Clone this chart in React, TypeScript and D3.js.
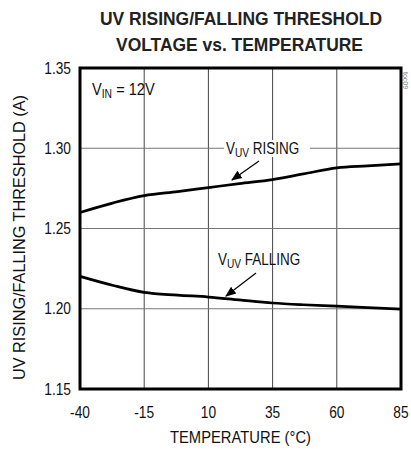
import React from "react";
import * as d3 from "d3";

const temps = [-40, -27, -15, -2, 10, 22, 35, 47, 60, 72, 85];
const rising = [1.26, 1.266, 1.2705, 1.273, 1.2755, 1.278, 1.2805, 1.284, 1.2878, 1.289, 1.2903];
const falling = [1.2202, 1.2145, 1.2102, 1.2085, 1.2073, 1.2055, 1.2036, 1.2025, 1.2016, 1.2007, 1.1998];
const xTicks = [-40, -15, 10, 35, 60, 85];
const yTicks = [1.15, 1.2, 1.25, 1.3, 1.35];

const W = 411;
const H = 450;
const margin = { top: 68, right: 10, bottom: 61, left: 80 };
const font = "'Liberation Sans', Arial, sans-serif";
// reference type is a narrow grotesque, squeeze horizontally
const squeeze = 0.86;

function App() {
  const x = d3.scaleLinear().domain([-40, 85]).range([margin.left, W - margin.right]);
  const y = d3.scaleLinear().domain([1.15, 1.35]).range([H - margin.bottom, margin.top]);

  const line = d3
    .line<number>()
    .x((_, i) => x(temps[i]))
    .y((d) => y(d))
    .curve(d3.curveMonotoneX);

  const x0 = x(-40);
  const x1 = x(85);
  const y0 = y(1.15);
  const y1 = y(1.35);

  return (
    <svg
      width={W}
      height={H}
      style={{ position: "absolute", left: 0, top: 0, background: "#fff" }}
      fontFamily={font}
    >
      <defs>
        <marker id="arr" viewBox="0 0 10 10" refX="9" refY="5" markerWidth="9" markerHeight="9" orient="auto">
          <path d="M0,1 L10,5 L0,9 Z" fill="#000" />
        </marker>
      </defs>

      {/* title */}
      <text x={100} y={25} fontSize={19} fontWeight="bold" fill="#222" textLength={282} lengthAdjust="spacingAndGlyphs">
        UV RISING/FALLING THRESHOLD
      </text>
      <text x={116} y={51} fontSize={19} fontWeight="bold" fill="#222" textLength={247} lengthAdjust="spacingAndGlyphs">
        VOLTAGE vs. TEMPERATURE
      </text>

      {/* grid */}
      {xTicks.slice(1, -1).map((t) => (
        <line key={"gx" + t} x1={x(t)} x2={x(t)} y1={y1} y2={y0} stroke="#444" strokeWidth={1} />
      ))}
      {yTicks.slice(1, -1).map((t) => (
        <line key={"gy" + t} x1={x0} x2={x1} y1={y(t)} y2={y(t)} stroke="#777" strokeWidth={1} />
      ))}

      {/* curves */}
      <path d={line(rising) || ""} fill="none" stroke="#000" strokeWidth={2.7} />
      <path d={line(falling) || ""} fill="none" stroke="#000" strokeWidth={2.7} />

      {/* frame */}
      <rect x={x0} y={y1} width={x1 - x0} height={y0 - y1} fill="none" stroke="#000" strokeWidth={3} />

      {/* annotations */}
      <g transform={`translate(92, 95) scale(${squeeze}, 1)`}>
        <text fontSize={17} fill="#111">
          V<tspan fontSize={12} dy={3}>IN</tspan>
          <tspan dy={-3}> = 12V</tspan>
        </text>
      </g>

      <rect x={224} y={140} width={86} height={17} fill="#fff" />
      <g transform={`translate(226, 154) scale(${squeeze * 0.98}, 1)`}>
        <text fontSize={16} fill="#111">
          V<tspan fontSize={12} dy={3}>UV</tspan>
          <tspan dy={-3}> RISING</tspan>
        </text>
      </g>
      <line x1={259} y1={161} x2={232} y2={180} stroke="#000" strokeWidth={1.2} markerEnd="url(#arr)" />

      <g transform={`translate(218, 265) scale(${squeeze * 0.98}, 1)`}>
        <text fontSize={16} fill="#111">
          V<tspan fontSize={12} dy={3}>UV</tspan>
          <tspan dy={-3}> FALLING</tspan>
        </text>
      </g>
      <line x1={256} y1={273} x2={226} y2={296} stroke="#000" strokeWidth={1.2} markerEnd="url(#arr)" />

      <text transform={`translate(403, 72) rotate(90)`} fontSize={7} fill="#777">
        toc09
      </text>

      {/* y ticks */}
      {yTicks.map((t) => (
        <text
          key={"yt" + t}
          transform={`translate(71, ${y(t) + 5.5}) scale(${squeeze}, 1)`}
          textAnchor="end"
          fontSize={16}
          fill="#111"
        >
          {t.toFixed(2)}
        </text>
      ))}
      {/* x ticks */}
      {xTicks.map((t) => (
        <text
          key={"xt" + t}
          transform={`translate(${x(t)}, 418) scale(${squeeze}, 1)`}
          textAnchor="middle"
          fontSize={16}
          fill="#111"
        >
          {t}
        </text>
      ))}

      <text x={170} y={443} fontSize={17} fill="#111" textLength={141} lengthAdjust="spacingAndGlyphs">
        TEMPERATURE (°C)
      </text>
      <text
        transform={`translate(25, 380) rotate(-90)`}
        fontSize={17}
        fill="#111"
        textLength={285}
        lengthAdjust="spacingAndGlyphs"
      >
        UV RISING/FALLING THRESHOLD (A)
      </text>
    </svg>
  );
}

export default App;
